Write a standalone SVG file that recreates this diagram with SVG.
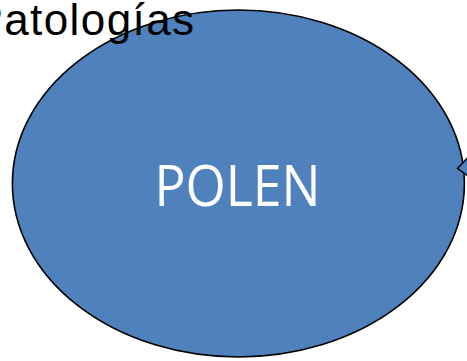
<svg xmlns="http://www.w3.org/2000/svg" width="467" height="361" viewBox="0 0 467 361">
<style>
.shape{fill:#4F81BD;stroke:#000;stroke-width:1.6}
.title{font-family:"Liberation Sans",Arial,sans-serif;font-size:44px;fill:#000}
.label{font-family:"Open Sans","Noto Sans",sans-serif;font-size:56px;fill:#fff}
</style>
<rect width="467" height="361" fill="#fff"/>
<g id="polen">
<ellipse class="shape" cx="238.4" cy="183.5" rx="226" ry="173.5"/>
<text class="label" x="237.5" y="206" text-anchor="middle" textLength="166" lengthAdjust="spacingAndGlyphs">POLEN</text>
</g>
<g id="connectors">
<polygon class="shape" points="457.5,168.5 472,153 472,179"/>
</g>
<g id="patologias">
<text class="title" x="-26.5" y="35" textLength="220.5" lengthAdjust="spacing">Patologías</text>
</g>
</svg>
